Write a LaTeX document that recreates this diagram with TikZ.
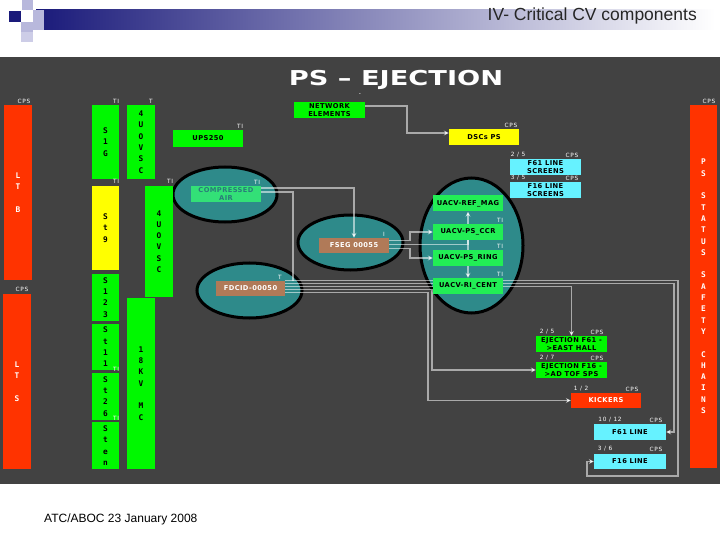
\documentclass[tikz,border=0pt]{standalone}
\usepackage{fontspec}
\setmainfont{Liberation Sans}
\newfontfamily\boxf[LetterSpace=6]{DejaVu Sans}
\newfontfamily\labf[LetterSpace=12]{DejaVu Sans}
\newfontfamily\barf{DejaVu Sans Mono}
\newfontfamily\titf{DejaVu Sans}
\usetikzlibrary{arrows.meta,shapes.geometric}
\pgfdeclarelayer{back}
\pgfdeclarelayer{front}
\pgfsetlayers{back,main,front}
\definecolor{panel}{HTML}{424242}
\definecolor{rbar}{HTML}{FF3300}
\definecolor{gbar}{HTML}{00F800}
\definecolor{ybar}{HTML}{FFFF00}
\definecolor{cbox}{HTML}{66F2FF}
\definecolor{tealf}{HTML}{2E8A8A}
\definecolor{brownb}{HTML}{B07A58}
\definecolor{ugreen}{HTML}{22EE55}
\definecolor{cagreen}{HTML}{33E077}
\definecolor{catext}{HTML}{2A7A7A}
\definecolor{navy}{HTML}{1A1A7A}
\definecolor{lav}{HTML}{B8B8DC}
\begin{document}
\begin{tikzpicture}[x=1pt,y=-1pt,
 vbar/.style={draw=none, inner sep=0, minimum width=27, align=center, font=\barf\bfseries\fontsize{7.8}{11.3}\selectfont},
 redbar/.style={vbar, fill=rbar, text=white},
 grnbar/.style={vbar, fill=gbar, text=black},
 ylwbar/.style={vbar, fill=ybar, text=black},
 bx/.style={inner sep=0, minimum width=70, minimum height=16, align=center, font=\boxf\bfseries\fontsize{6.7}{7.4}\selectfont, text=black},
 gbx/.style={bx, fill=gbar},
 ubx/.style={bx, fill=ugreen},
 cbx/.style={bx, fill=cbox},
 ybx/.style={bx, fill=ybar},
 rbx/.style={bx, fill=rbar, text=white},
 bbx/.style={bx, fill=brownb, text=white},
 ellx/.style={ellipse, draw=black, line width=3, fill=tealf, inner sep=0},
 lbl/.style={font=\labf\fontsize{5.8}{6}\selectfont, text=white, inner sep=0},
 connl/.style={draw=white, draw opacity=0.55, line width=1.5},
 conn/.style={connl, -{Stealth[length=5pt,width=5pt]}},
]
\useasboundingbox (0,0) rectangle (720,540);
\begin{pgfonlayer}{back}
\fill[white] (0,0) rectangle (720,540);
\shade[left color=navy, right color=white] (36,10) rectangle (715,30);
\fill[lav] (22,0) rectangle (33,10);
\fill[navy] (9,11) rectangle (21,22);
\fill[lav] (33,10) rectangle (44,30);
\fill[lav] (21,22) rectangle (33,32);
\fill[lav!70] (21,32) rectangle (33,42);
\fill[panel] (0,57) rectangle (720,484);
\node[ellx, minimum width=104, minimum height=55] (caell) at (225,194.5) {};
\node[ellx, minimum width=105, minimum height=55] (fsegell) at (350.5,242.5) {};
\node[ellx, minimum width=105, minimum height=55] (fdcidell) at (249.5,290.5) {};
\node[ellx, minimum width=103, minimum height=135] (uacvell) at (471.5,245.5) {};
\end{pgfonlayer}

\begin{pgfonlayer}{front}
\node[anchor=base east, font=\fontsize{17.5}{19}\selectfont, text=black!85, inner sep=0] (hdr) at (697,21) {IV- Critical CV components};
\node[anchor=base west, font=\fontsize{12}{14}\selectfont, inner sep=0] (foot) at (44,522) {ATC/ABOC 23 January 2008};
\node[font=\titf\bfseries\fontsize{20.5}{22}\selectfont, text=white, inner sep=0] (title) at (396,79.5) {\scalebox{1.33}[1]{PS – EJECTION}};

% bars
\node[redbar, minimum width=28, minimum height=175] (lt1) at (18,192.5) {L\\T\\~\\B};
\node[redbar, minimum width=28, minimum height=175] (lt2) at (17,381.5) {L\\T\\~\\S};
\node[grnbar, minimum height=74] (s1g) at (105.5,142) {S\\1\\G};
\node[grnbar, minimum width=28, minimum height=74] (vsc1) at (141,142) {4\\U\\O\\V\\S\\C};
\node[ylwbar, minimum height=84] (st9) at (105.5,228) {S\\t\\9};
\node[grnbar, minimum width=28, minimum height=111] (vsc2) at (159,241.5) {4\\U\\O\\V\\S\\C};
\node[grnbar, minimum height=47] (s123) at (105.5,297.5) {S\\1\\2\\3};
\node[grnbar, minimum height=46] (st11) at (105.5,347) {S\\t\\1\\1};
\node[grnbar, minimum height=47] (st26) at (105.5,396.5) {S\\t\\2\\6};
\node[grnbar, minimum height=47] (sten) at (105.5,445.5) {S\\t\\e\\n};
\node[grnbar, minimum width=28, minimum height=171] (kv) at (141,383.5) {1\\8\\K\\V\\~\\M\\C};
\node[redbar, minimum height=363] (psb) at (703.5,286.5) {P\\S\\~\\S\\T\\A\\T\\U\\S\\~\\S\\A\\F\\E\\T\\Y\\~\\C\\H\\A\\I\\N\\S};

% boxes
\node[gbx, minimum height=17] (ups) at (208,138.5) {UPS250};
\node[gbx, minimum width=71] (ne) at (329.5,110) {NETWORK\\ELEMENTS};
\node[ybx] (dscs) at (484,137) {DSCs PS};
\node[cbx, minimum width=71] (f61s) at (545.5,167) {F61 LINE\\SCREENS};
\node[cbx, minimum width=71] (f16s) at (545.5,190) {F16 LINE\\SCREENS};
\node[bx, fill=cagreen, text=catext] (ca) at (226,194) {COMPRESSED\\AIR};
\node[bbx, minimum height=15] (fseg) at (354,245.5) {FSEG 00055};
\node[bbx, minimum width=69, minimum height=15] (fdcid) at (250.5,288.5) {FDCID-00050};
\node[ubx] (ref) at (468,203.5) {UACV-REF\_MAG};
\node[ubx] (ccr) at (468,232) {UACV-PS\_CCR};
\node[ubx] (ring) at (468,258) {UACV-PS\_RING};
\node[ubx] (cent) at (468,286) {UACV-RI\_CENT};
\node[gbx, minimum width=71] (ej61) at (571.5,344) {EJECTION F61 -\\>EAST HALL};
\node[gbx, minimum width=71] (ej16) at (571.5,370) {EJECTION F16 -\\>AD TOF SPS};
\node[rbx, minimum height=15] (kick) at (606,400.5) {KICKERS};
\node[cbx, minimum width=72] (f61l) at (630,432) {F61 LINE};
\node[cbx, minimum width=72, minimum height=15] (f16l) at (630,461.5) {F16 LINE};

% small labels
\node[lbl] (k1) at (24,101) {CPS};
\node[lbl] (k2) at (22,289) {CPS};
\node[lbl] (k3) at (709,101) {CPS};
\node[lbl] (k4) at (116,101) {TI};
\node[lbl] (k5) at (151,101) {T};
\node[lbl] (k6) at (116,181) {TI};
\node[lbl] (k7) at (170,181) {TI};
\node[lbl] (k8) at (116,369) {TI};
\node[lbl] (k9) at (116,418) {TI};
\node[lbl] (k10) at (240,126) {TI};
\node[lbl] (k11) at (360,95) {-};
\node[lbl] (k12) at (511,125) {CPS};
\node[lbl] (k13) at (518,155) {2 / 5};
\node[lbl] (k14) at (572,155) {CPS};
\node[lbl] (k15) at (518,178) {3 / 5};
\node[lbl] (k16) at (572,178) {CPS};
\node[lbl] (k17) at (257,182) {TI};
\node[lbl] (k18) at (384,234) {I};
\node[lbl] (k19) at (280,277) {T};
\node[lbl] (k20) at (500,220) {TI};
\node[lbl] (k21) at (500,246) {TI};
\node[lbl] (k22) at (500,274) {TI};
\node[lbl] (k23) at (547,332) {2 / 5};
\node[lbl] (k24) at (597,332) {CPS};
\node[lbl] (k25) at (547,358) {2 / 7};
\node[lbl] (k26) at (597,358) {CPS};
\node[lbl] (k27) at (581,389) {1 / 2};
\node[lbl] (k28) at (632,389) {CPS};
\node[lbl] (k29) at (610,420) {10 / 12};
\node[lbl] (k30) at (656,420) {CPS};
\node[lbl] (k31) at (605,449) {3 / 6};
\node[lbl] (k32) at (656,449) {CPS};
\end{pgfonlayer}

% connectors
\draw[conn] ([yshift=4]ne.east) -- ++(42,0) |- ([yshift=4]dscs.west);
\draw[conn] ([yshift=6]ca.east) -| (fseg.north);
\draw[connl] ([yshift=2]ca.east) -- ++(32,0) -- ++(0,88.5);
\draw[conn] ([yshift=8]fdcid.east) -- ++(393,0) -- ++(0,195.5) -- ++(-91,0) |- (f16l.west);
\draw[conn] ([yshift=5]fdcid.east) -- ++(389,0) |- (f61l.east);
\draw[conn] ([yshift=2]fdcid.east) -| (ej61.north);
\draw[conn] ([yshift=-1]fdcid.east) -- ++(147,0) |- (ej16.west);
\draw[conn] ([yshift=-4]fdcid.east) -- ++(143,0) |- (kick.west);
\draw[conn] ([yshift=5]fseg.east) -- ++(21,0) |- (ccr.west);
\draw[conn] ([yshift=-3]fseg.east) -- ++(21,0) |- (ring.west);
\draw[conn] ([yshift=1]fseg.east) -| (ref.south);
\draw[conn] (ccr.south) -- (cent.north);
\end{tikzpicture}
\end{document}
